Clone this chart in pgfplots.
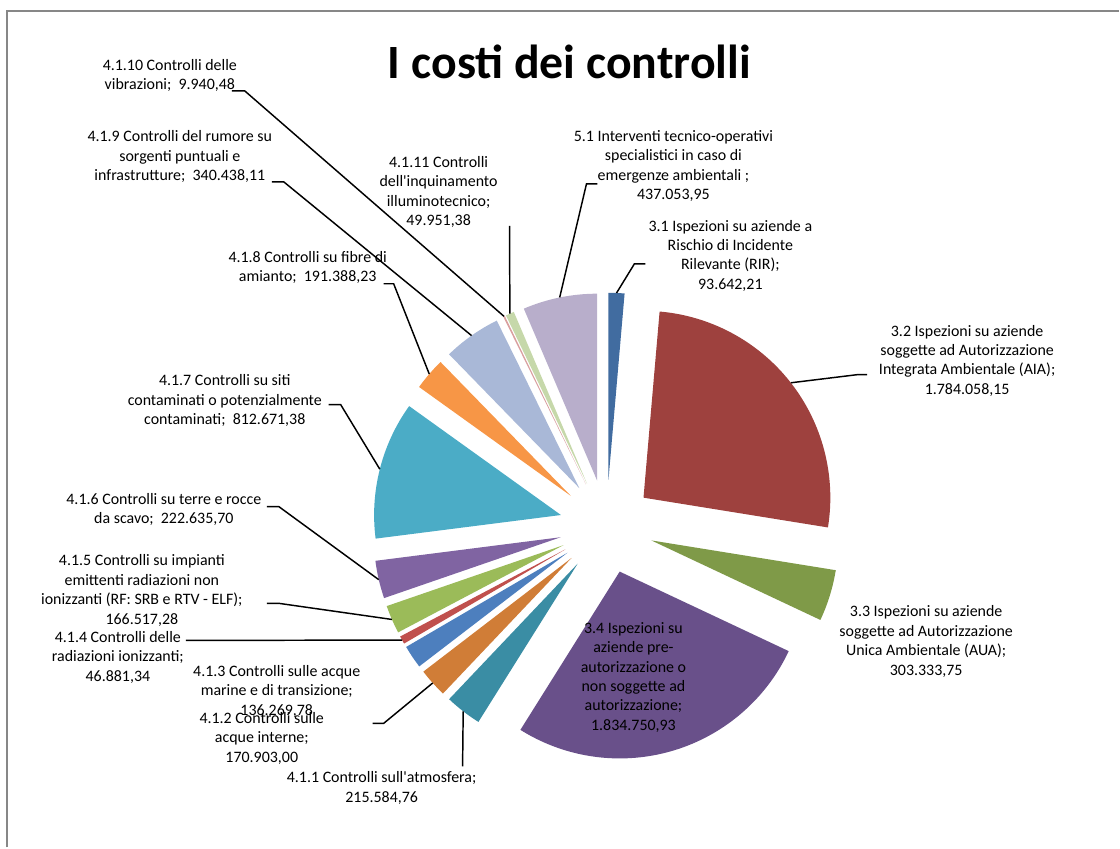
\documentclass[border=0pt]{standalone}
\usepackage{fontspec}
\setmainfont{Carlito}
\usepackage{pgfplots}
\usepackage{pgfplotstable}
\pgfplotsset{compat=1.18}

\definecolor{c31}{HTML}{416CA0}
\definecolor{c32}{HTML}{9E413E}
\definecolor{c33}{HTML}{7F9A48}
\definecolor{c34}{HTML}{69508A}
\definecolor{c411}{HTML}{3A8DA4}
\definecolor{c412}{HTML}{D07D37}
\definecolor{c413}{HTML}{4D7FBE}
\definecolor{c414}{HTML}{C0504D}
\definecolor{c415}{HTML}{9BBB59}
\definecolor{c416}{HTML}{8064A2}
\definecolor{c417}{HTML}{4BACC6}
\definecolor{c418}{HTML}{F79646}
\definecolor{c419}{HTML}{A9B8D7}
\definecolor{c4110}{HTML}{D9A09F}
\definecolor{c4111}{HTML}{C6D8AA}
\definecolor{c51}{HTML}{B8AECB}

% slices clockwise from 12 o'clock; ax..by = start of the leader line (px), -1 = none
\pgfplotstableread[col sep=comma]{
value,col,ax,ay,bx,by
93642.21,c31,646,264,635,264
1784058.15,c32,868,375,858,375
303333.75,c33,-1,0,0,0
1834750.93,c34,-1,0,0,0
215584.76,c411,463,767,463,767
170903.00,c412,373,724,384,724
136269.78,c413,-1,0,0,0
46881.34,c414,186,641,186,641
166517.28,c415,267,604,280,604
222635.70,c416,267,507,279,507
812671.38,c417,329,405,341,405
191388.23,c418,384,284,394,284
340438.11,c419,272,182,284,182
9940.48,c4110,232,91,245,91
49951.38,c4111,510,226,510,226
437053.95,c51,598,184,587,184
}\costi

\begin{document}
\begin{tikzpicture}[lab/.style={font=\fontsize{12}{14.6}\selectfont, align=center, inner sep=0pt}]
\begin{axis}[
  scale only axis, width=840bp, height=636bp,
  xmin=0, xmax=1120, ymin=0, ymax=848, y dir=reverse,
  hide axis, clip=false,
]
\path (axis cs:0,0) rectangle (axis cs:1120,848);
\draw[color=black!47, line width=1.5bp] (axis cs:7,848) -- (axis cs:7,11) -- (axis cs:1120,11);

\pgfplotsextra{
  \pgfplotstablegetrowsof{\costi}
  \pgfmathtruncatemacro{\nlast}{\pgfplotsretval-1}
  \gdef\tot{0}
  \foreach \i in {0,...,\nlast}{
    \pgfplotstablegetelem{\i}{value}\of\costi
    \xdef\tot{\fpeval{\tot+\pgfplotsretval}}
  }
  \gdef\cum{0}
  \foreach \i in {0,...,\nlast}{
    \pgfplotstablegetelem{\i}{value}\of\costi \let\sval\pgfplotsretval
    \pgfplotstablegetelem{\i}{col}\of\costi \let\scol\pgfplotsretval
    \edef\aa{\fpeval{round(360*\cum/\tot,4)}}
    \xdef\cum{\fpeval{\cum+\sval}}
    \edef\ab{\fpeval{round(360*\cum/\tot,4)}}
    \edef\amid{\fpeval{(\aa+\ab)/2}}
    \edef\px{\fpeval{round(607+47*sind(\amid),3)}}
    \edef\py{\fpeval{round(527-47*cosd(\amid),3)}}
    \edef\ex{\fpeval{round(607+234*sind(\amid),3)}}
    \edef\ey{\fpeval{round(527-234*cosd(\amid),3)}}
    \fill[\scol] (axis cs:\px,\py) -- ++({90-\aa}:140.25bp)
      arc[start angle={90-\aa}, end angle={90-\ab}, radius=140.25bp] -- cycle;
    \pgfplotstablegetelem{\i}{ax}\of\costi \let\lax\pgfplotsretval
    \pgfplotstablegetelem{\i}{ay}\of\costi \let\lay\pgfplotsretval
    \pgfplotstablegetelem{\i}{bx}\of\costi \let\lbx\pgfplotsretval
    \pgfplotstablegetelem{\i}{by}\of\costi \let\lby\pgfplotsretval
    \ifnum\lax<0 \else
      \draw[black, line width=1.1bp] (axis cs:\lax,\lay) -- (axis cs:\lbx,\lby) -- (axis cs:\ex,\ey);
    \fi
  }
}

\node[anchor=base, font=\fontsize{36}{40}\selectfont\bfseries, inner sep=0pt] at (axis cs:570,79) {I costi dei controlli};

\node[lab] at (axis cs:170,75.5) {4.1.10 Controlli delle\\vibrazioni; \ 9.940,48};
\node[lab] at (axis cs:180,157) {4.1.9 Controlli del rumore su\\sorgenti puntuali e\\infrastrutture; \ 340.438,11};
\node[lab] at (axis cs:439,192) {4.1.11 Controlli\\dell\textquotesingle inquinamento\\illuminotecnico;\\49.951,38};
\node[lab] at (axis cs:308,268) {4.1.8 Controlli su fibre di\\amianto; \ 191.388,23};
\node[lab] at (axis cs:225,401) {4.1.7 Controlli su siti\\contaminati o potenzialmente\\contaminati; \ 812.671,38};
\node[lab] at (axis cs:164,510) {4.1.6 Controlli su terre e rocce\\da scavo; \ 222.635,70};
\node[lab] at (axis cs:142,591) {4.1.5 Controlli su impianti\\emittenti radiazioni non\\ionizzanti (RF: SRB e RTV - ELF);\\166.517,28};
\node[lab] at (axis cs:118,658) {4.1.4 Controlli delle\\radiazioni ionizzanti;\\46.881,34};
\node[lab] at (axis cs:277,692) {4.1.3 Controlli sulle acque\\marine e di transizione;\\136.269,78};
\node[lab] at (axis cs:262,739) {4.1.2 Controlli sulle\\acque interne;\\170.903,00};
\node[lab] at (axis cs:382,788.5) {4.1.1 Controlli sull\textquotesingle atmosfera;\\215.584,76};
\node[lab] at (axis cs:634,678) {3.4 Ispezioni su\\aziende pre-\\autorizzazione o\\non soggette ad\\autorizzazione;\\1.834.750,93};
\node[lab] at (axis cs:927,642) {3.3 Ispezioni su aziende\\soggette ad Autorizzazione\\Unica Ambientale (AUA);\\303.333,75};
\node[lab] at (axis cs:968,361) {3.2 Ispezioni su aziende\\soggette ad Autorizzazione\\Integrata Ambientale (AIA);\\1.784.058,15};
\node[lab] at (axis cs:731,256) {3.1 Ispezioni su aziende a\\Rischio di Incidente\\Rilevante (RIR);\\93.642,21};
\node[lab] at (axis cs:674,166) {5.1 Interventi tecnico-operativi\\specialistici in caso di\\emergenze ambientali ;\\437.053,95};
\end{axis}
\end{tikzpicture}
\end{document}
